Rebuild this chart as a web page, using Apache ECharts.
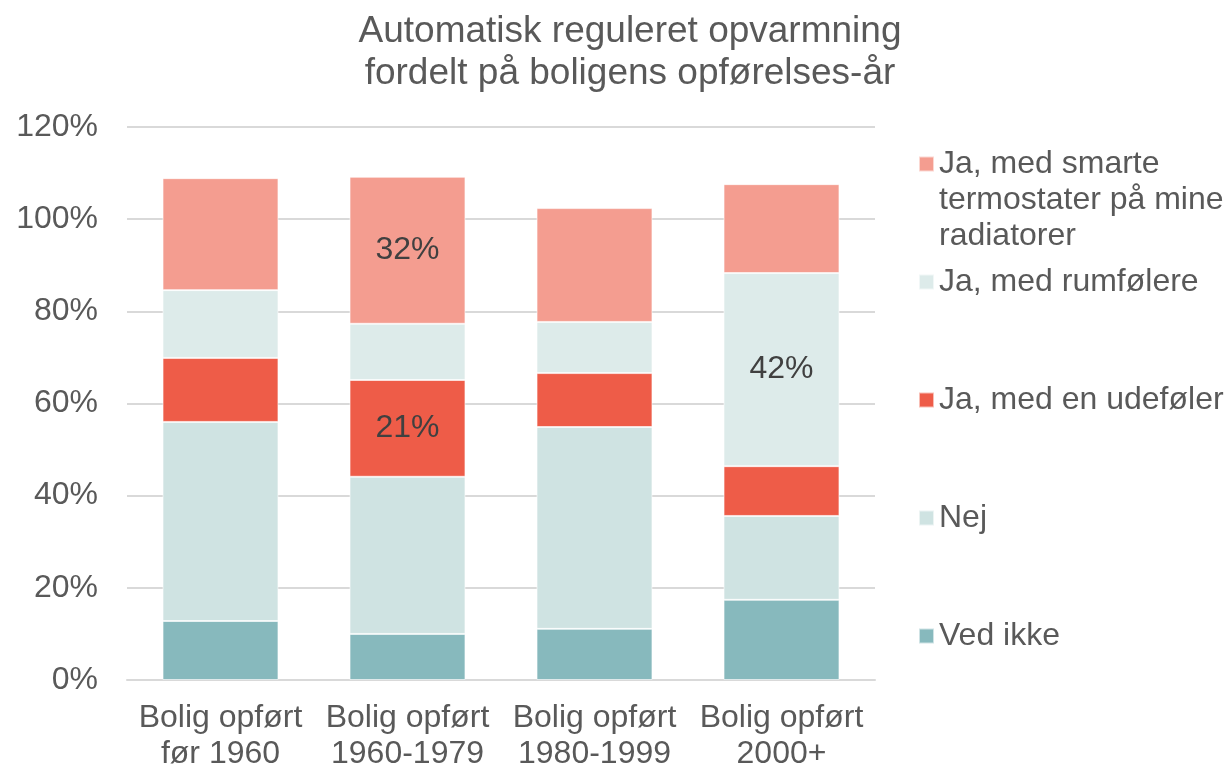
<!DOCTYPE html>
<html>
<head>
<meta charset="utf-8" />
<title>Automatisk reguleret opvarmning</title>
<script src="https://cdn.jsdelivr.net/npm/echarts@6/dist/echarts.min.js"></script>
<style>
  html, body { margin: 0; padding: 0; background: #fff; }
  #main { width: 1229px; height: 769px; }
</style>
</head>
<body>
<div id="main"></div>
<script>
// kategorier (x-akse)
var categories = ['Bolig opført\nfør 1960', 'Bolig opført\n1960-1979', 'Bolig opført\n1980-1999', 'Bolig opført\n2000+'];

// serier, nedefra og op (procent)
var vedIkke   = [12.8, 10.0, 11.1, 17.4];
var nej       = [43.2, 34.1, 43.8, 18.2];
var udefoler  = [13.9, 21.0, 11.7, 10.8];
var rumfolere = [14.7, 12.2, 11.1, 41.9];
var smarte    = [24.3, 31.9, 24.7, 19.3];

// hvilke felter der har en værdi-label
var labelIdx = { smarte: [1], udefoler: [1], rumfolere: [3] };

var yTicks = [0, 20, 40, 60, 80, 100, 120];

var FONT = 'Liberation Sans, Arial, sans-serif';

var seriesDefs = [
  { key: 'vedIkke',   name: 'Ved ikke',             data: vedIkke,   color: '#87B9BD' },
  { key: 'nej',       name: 'Nej',                  data: nej,       color: '#CFE3E2' },
  { key: 'udefoler',  name: 'Ja, med en udeføler',  data: udefoler,  color: '#EE5C48' },
  { key: 'rumfolere', name: 'Ja, med rumfølere',    data: rumfolere, color: '#DDEBEA' },
  { key: 'smarte',    name: 'Ja, med smarte termostater på mine radiatorer', data: smarte, color: '#F49D90' }
];

var series = seriesDefs.map(function (s) {
  var shown = labelIdx[s.key] || [];
  return {
    name: s.name,
    type: 'bar',
    stack: 'total',
    barWidth: '62%',
    itemStyle: { color: s.color, borderColor: 'rgba(255,255,255,0.6)', borderWidth: 1 },
    data: s.data.map(function (v, i) {
      return shown.indexOf(i) >= 0
        ? { value: v, label: { show: true } }
        : v;
    }),
    label: {
      show: false,
      position: 'inside',
      color: '#404040',
      fontSize: 32,
      fontFamily: FONT,
      formatter: function (p) { return Math.round(p.value) + '%'; }
    },
    emphasis: { disabled: true }
  };
});

// én legend pr. serie, så de kan placeres frit
var legendCenters = { smarte: 162, rumfolere: 280, udefoler: 398, nej: 516, vedIkke: 634 };
var legends = seriesDefs.map(function (s) {
  var multi = s.key === 'smarte';
  return {
    data: [s.name],
    orient: 'vertical',
    left: 918,
    // den flerlinjede tekst centreres om ikonet, derfor to tomme linjer foran
    top: multi ? legendCenters[s.key] - 88 : legendCenters[s.key] - 16,
    itemWidth: 15,
    itemHeight: 15,
    icon: 'rect',
    selectedMode: false,
    padding: 0,
    itemGap: 0,
    formatter: multi ? function () { return '\n\nJa, med smarte\ntermostater på mine\nradiatorer'; } : null,
    textStyle: {
      fontSize: 32,
      color: '#595959',
      lineHeight: 36,
      fontFamily: FONT
    }
  };
});

var chart = echarts.init(document.getElementById('main'));
chart.setOption({
  backgroundColor: '#fff',
  animation: false,
  textStyle: { fontFamily: FONT },
  title: {
    text: 'Automatisk reguleret opvarmning\nfordelt på boligens opførelses-år',
    left: 625,
    textAlign: 'center',
    top: 6,
    textStyle: {
      fontSize: 37,
      fontWeight: 'normal',
      color: '#595959',
      lineHeight: 42,
      fontFamily: FONT
    }
  },
  legend: legends,
  grid: { left: 127, right: 354, top: 127, bottom: 89, outerBoundsMode: 'none', containLabel: false },
  xAxis: {
    type: 'category',
    data: categories,
    axisTick: { show: false },
    axisLine: { lineStyle: { color: '#D9D9D9', width: 2 } },
    axisLabel: {
      color: '#595959',
      fontSize: 32,
      lineHeight: 36,
      margin: 20,
      interval: 0
    }
  },
  yAxis: {
    type: 'value',
    min: yTicks[0],
    max: yTicks[yTicks.length - 1],
    interval: 20,
    axisLine: { show: false },
    axisTick: { show: false },
    splitLine: { lineStyle: { color: '#D9D9D9', width: 2 } },
    axisLabel: {
      color: '#595959',
      fontSize: 32,
      margin: 29,
      formatter: '{value}%'
    }
  },
  series: series
});
</script>
</body>
</html>
